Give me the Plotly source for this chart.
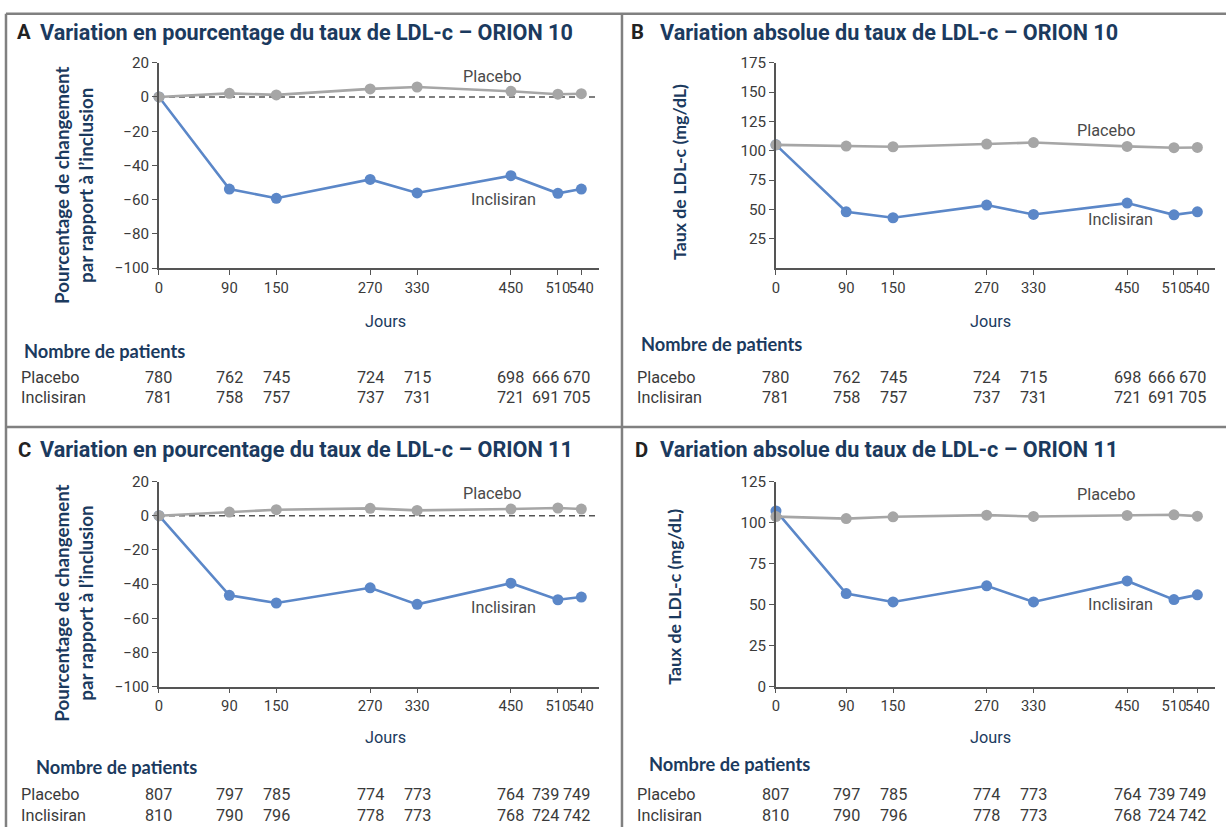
import plotly.graph_objects as go

# ---- data -------------------------------------------------------------
days = [0, 90, 150, 270, 330, 450, 510, 540]
day_labels = ["0", "90", "150", "270", "330", "450", "510", "540"]

# ORION 10 - percent change from baseline
o10_pct_placebo = [0, 2.1, 1.2, 4.7, 5.8, 3.3, 1.6, 1.9]
o10_pct_inclisiran = [0, -53.8, -59.2, -48.2, -56.1, -46.0, -56.3, -53.8]

# ORION 10 - absolute LDL-c (mg/dL)
o10_abs_placebo = [105.0, 104.0, 103.4, 105.7, 107.0, 103.7, 102.6, 102.8]
o10_abs_inclisiran = [105.0, 48.0, 42.9, 53.7, 45.7, 55.4, 45.4, 48.0]

# ORION 11 - percent change from baseline
o11_pct_placebo = [0, 2.1, 3.5, 4.3, 3.1, 3.9, 4.5, 3.9]
o11_pct_inclisiran = [0, -46.6, -51.1, -42.2, -51.9, -39.5, -49.2, -47.6]

# ORION 11 - absolute LDL-c (mg/dL)
o11_abs_placebo = [103.6, 102.4, 103.5, 104.5, 103.7, 104.3, 104.7, 103.9]
o11_abs_inclisiran = [107.1, 56.7, 51.6, 61.4, 51.6, 64.4, 53.0, 55.9]

# numbers of patients at each visit
o10_n_placebo = [780, 762, 745, 724, 715, 698, 666, 670]
o10_n_inclisiran = [781, 758, 757, 737, 731, 721, 691, 705]
o11_n_placebo = [807, 797, 785, 774, 773, 764, 739, 749]
o11_n_inclisiran = [810, 790, 796, 778, 773, 768, 724, 742]

pct_ticks = [-100, -80, -60, -40, -20, 0, 20]
o10_abs_ticks = [25, 50, 75, 100, 125, 150, 175]
o11_abs_ticks = [0, 25, 50, 75, 100, 125]

# ---- styling ------------------------------------------------------------
W, H = 1226, 836
BODY = 8                              # page margin around the plot div
SY = (H + 2 * BODY) / H
DX = 1.5
FS = 1.015                            # font scale
NAVY = "#1b3a5e"
TEXT = "#3a3a3a"
AXIS = "#555555"
BLUE = "#5b87c8"
GREY = "#a6a6a6"
BORDER = "#808080"
COND = "Roboto, sans-serif"
SANS = "Lato, Open Sans, sans-serif"


def px(x):
    """layout position (px) -> paper x"""
    return (x - DX) / W


def py(y):
    """layout position (px) -> paper y"""
    return 1 - (y * SY - BODY) / H


fig = go.Figure()

# axis geometry (layout pixel positions)
left_x = (157, 598)
right_x = (776, 1216)
top_y = (267.7, 61.7)
bottom_y = (687.3, 481.7)

panels = [
    # (axis suffix, x pixels, y pixels, y range, y ticks, placebo, inclisiran)
    ("", left_x, top_y, [-100, 20], pct_ticks, o10_pct_placebo, o10_pct_inclisiran),
    ("2", right_x, top_y, [0, 175], o10_abs_ticks, o10_abs_placebo, o10_abs_inclisiran),
    ("3", left_x, bottom_y, [-100, 20], pct_ticks, o11_pct_placebo, o11_pct_inclisiran),
    ("4", right_x, bottom_y, [0, 125], o11_abs_ticks, o11_abs_placebo, o11_abs_inclisiran),
]

layout_axes = {}
shapes = []
for suf, xp, yp, yr, yt, plc, inc in panels:
    xa, ya = "x" + suf, "y" + suf
    layout_axes["xaxis" + suf] = dict(
        domain=[px(xp[0]), px(xp[1])], range=[0, 562], anchor=ya,
        tickvals=days, ticktext=day_labels, tickangle=0, ticks="outside", ticklen=5,
        tickwidth=1.3, tickcolor=AXIS, showline=True, linecolor=AXIS,
        linewidth=1.6, showgrid=False, zeroline=False,
        tickfont=dict(family=COND, size=14.6 * FS, color=TEXT), fixedrange=True,
    )
    layout_axes["yaxis" + suf] = dict(
        domain=[py(yp[0]), py(yp[1])], range=yr, anchor=xa,
        tickvals=yt, ticks="outside", ticklen=5, tickwidth=1.3,
        tickcolor=AXIS, showline=True, linecolor=AXIS, linewidth=1.6,
        showgrid=False, zeroline=False,
        tickfont=dict(family=COND, size=15 * FS, color=TEXT), fixedrange=True,
    )
    if yr[0] < 0:
        shapes.append(dict(type="line", xref=xa, yref=ya, x0=0, x1=562, y0=0, y1=0,
                           line=dict(color=AXIS, width=1.4, dash="6px,4px"), layer="below"))
    fig.add_trace(go.Scatter(
        x=days, y=inc, xaxis=xa, yaxis=ya, mode="lines+markers",
        line=dict(color=BLUE, width=2.6), marker=dict(color=BLUE, size=11),
        cliponaxis=False, showlegend=False, hoverinfo="skip"))
    fig.add_trace(go.Scatter(
        x=days, y=plc, xaxis=xa, yaxis=ya, mode="lines+markers",
        line=dict(color=GREY, width=2.6), marker=dict(color=GREY, size=11),
        cliponaxis=False, showlegend=False, hoverinfo="skip"))

# panel frames
frame = dict(color=BORDER, width=2.5)
left_edge = px(3.5)
mid_edge = px(621.5)
shapes += [
    dict(type="line", xref="paper", yref="paper", x0=left_edge, x1=1, y0=py(12.5), y1=py(12.5), line=frame),
    dict(type="line", xref="paper", yref="paper", x0=left_edge, x1=left_edge, y0=py(12.5), y1=0, line=frame),
    dict(type="line", xref="paper", yref="paper", x0=mid_edge, x1=mid_edge, y0=py(12.5), y1=0, line=frame),
    dict(type="line", xref="paper", yref="paper", x0=left_edge, x1=1, y0=py(427), y1=py(427), line=frame),
]

ann = []
PAD = {"left": 5, "center": 2}        # annotation box padding offset


def text(x, y, s, size=16, color=TEXT, family=COND, xanchor="center", bold=False, angle=0):
    ann.append(dict(
        x=px(x - PAD[xanchor]), y=py(y), xref="paper", yref="paper",
        text=f"<b>{s}</b>" if bold else s, showarrow=False, xanchor=xanchor,
        yanchor="middle", textangle=angle,
        font=dict(family=family, size=size * FS, color=color)))


# panel titles
titles = [
    ("A", 24, 31, 41, "Variation en pourcentage du taux de LDL-c – ORION 10"),
    ("B", 639, 31, 663, "Variation absolue du taux de LDL-c – ORION 10"),
    ("C", 24, 450, 41, "Variation en pourcentage du taux de LDL-c – ORION 11"),
    ("D", 643, 450, 663, "Variation absolue du taux de LDL-c – ORION 11"),
]
for letter, lx, ty, tx, t in titles:
    text(lx, ty, letter, size=20, color="#222222", family=COND, bold=True)
    text(tx, ty, t, size=21.3, color=NAVY, family=COND, xanchor="left", bold=True)

# y-axis titles
pct_title = "Pourcentage de changement<br>par rapport à l’inclusion"
text(73, 185, pct_title, size=18.5, color=NAVY, family=SANS, bold=True, angle=-90)
text(73, 604, pct_title, size=18.5, color=NAVY, family=SANS, bold=True, angle=-90)
text(680, 171, "Taux de LDL-c (mg/dL)", size=17.5, color=NAVY, family=SANS, bold=True, angle=-90)
text(676, 597, "Taux de LDL-c (mg/dL)", size=17.5, color=NAVY, family=SANS, bold=True, angle=-90)

# x-axis titles
for xx, yy in [(386, 321), (993, 321), (386, 738), (993, 738)]:
    text(xx, yy, "Jours", size=16, color=NAVY, family=COND)

# series labels placed in data coordinates
series_labels = [
    ("x", "y", 427, 12.2, 440, -60.0),
    ("x2", "y2", 424, 117, 441, 41),
    ("x3", "y3", 427, 12.8, 440, -53.6),
    ("x4", "y4", 424, 117, 441, 50),
]
for xa, ya, plx, ply, ilx, ily in series_labels:
    for lx, ly, s in [(plx, ply, "Placebo"), (ilx, ily, "Inclisiran")]:
        ann.append(dict(x=lx, y=ly, xref=xa, yref=ya, text=s, showarrow=False,
                        font=dict(family=COND, size=16 * FS, color="#4a4a4a")))

# number-at-risk tables
col_shift = [0, 0, 0, 0, 0, 0, -12, -5]
tables = [
    ("x", 25, 351, 22, 377, 397, o10_n_placebo, o10_n_inclisiran),
    ("x2", 644, 344, 640, 377, 397, o10_n_placebo, o10_n_inclisiran),
    ("x3", 37, 768, 22, 796, 817, o11_n_placebo, o11_n_inclisiran),
    ("x4", 652, 765, 640, 796, 817, o11_n_placebo, o11_n_inclisiran),
]
for xa, hx, hy, rx, ry1, ry2, npl, ninc in tables:
    text(hx, hy, "Nombre de patients", size=18, color=NAVY, family=SANS, xanchor="left", bold=True)
    text(rx, ry1, "Placebo", size=16, color=TEXT, xanchor="left")
    text(rx, ry2, "Inclisiran", size=16, color=TEXT, xanchor="left")
    for d, a, b, sh in zip(days, npl, ninc, col_shift):
        for val, yy in [(a, ry1), (b, ry2)]:
            ann.append(dict(x=d, y=py(yy), xref=xa, yref="paper", text=str(val),
                            showarrow=False, xshift=sh, yanchor="middle",
                            font=dict(family=COND, size=16 * FS, color=TEXT)))

fig.update_layout(
    width=W, height=H, margin=dict(l=0, r=0, t=0, b=0),
    paper_bgcolor="white", plot_bgcolor="white",
    shapes=shapes, annotations=ann, **layout_axes,
)

fig.write_html("out.html")
